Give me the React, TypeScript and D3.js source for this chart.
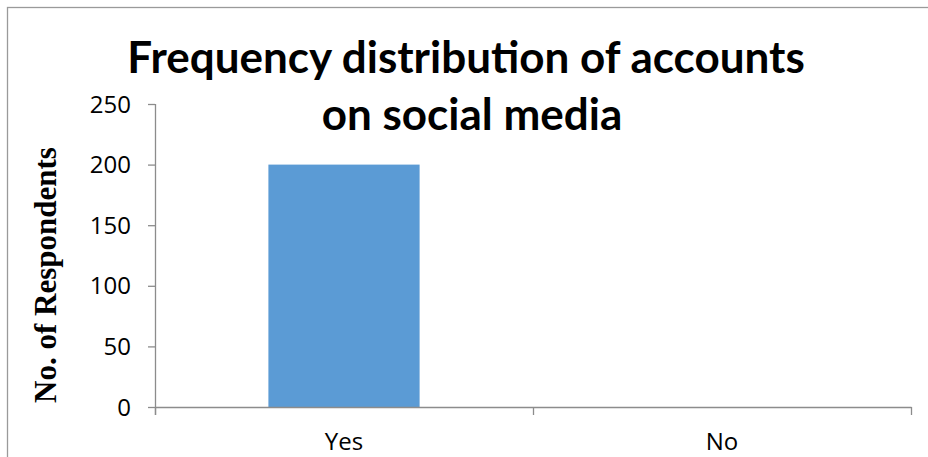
import React from "react";
import * as d3 from "d3";

const categories: string[] = ["Yes", "No"];
const respondents: number[] = [200, 0];
const yTicks: number[] = [0, 50, 100, 150, 200, 250];
const titleLines: string[] = ["Frequency distribution of accounts", "on social media"];
const yAxisTitle = "No. of Respondents";

const W = 928;
const H = 457;
const plot = { left: 155, right: 911, top: 104, bottom: 407 };

export default function App() {
  const x = d3
    .scaleBand<string>()
    .domain(categories)
    .range([plot.left, plot.right])
    .paddingInner(0)
    .paddingOuter(0);
  const y = d3.scaleLinear().domain([0, 250]).range([plot.bottom, plot.top]);
  const barW = x.bandwidth() * 0.4;
  const axisColor = "#8c8c8c";
  const tickFont = "Open Sans, Lato, sans-serif";

  const boundaries = [...categories.map((c) => x(c) as number), plot.right];

  return (
    <svg
      width={W}
      height={H}
      style={{ position: "fixed", left: 0, top: 0, background: "#fff" }}
    >
      <rect x={7.5} y={7.5} width={W + 10} height={H + 10} fill="#fff" stroke="#9a9a9a" strokeWidth={1.3} />

      {/* title */}
      <text
        x={466}
        y={73}
        textAnchor="middle"
        fontFamily="Lato, Open Sans, sans-serif"
        fontWeight="bold"
        fontSize={44}
        fill="#000"
      >
        {titleLines[0]}
      </text>
      <text
        x={472}
        y={130}
        textAnchor="middle"
        fontFamily="Lato, Open Sans, sans-serif"
        fontWeight="bold"
        fontSize={44}
        fill="#000"
      >
        {titleLines[1]}
      </text>

      {/* bars */}
      {categories.map((c, i) => {
        const cx = (x(c) as number) + x.bandwidth() / 2;
        return (
          <rect
            key={c}
            x={cx - barW / 2}
            y={y(respondents[i])}
            width={barW}
            height={y(0) - y(respondents[i])}
            fill="#5B9BD5"
          />
        );
      })}

      {/* y axis */}
      <line x1={plot.left + 0.5} x2={plot.left + 0.5} y1={y(250)} y2={plot.bottom + 8} stroke={axisColor} strokeWidth={1.3} />
      {yTicks.map((t) => (
        <g key={t}>
          <line x1={plot.left - 7} x2={plot.left} y1={y(t) + 0.5} y2={y(t) + 0.5} stroke={axisColor} strokeWidth={1.3} />
          <text
            x={131}
            y={y(t)}
            dy="0.36em"
            textAnchor="end"
            fontFamily={tickFont}
            fontSize={24}
            fill="#000"
          >
            {t}
          </text>
        </g>
      ))}

      {/* x axis */}
      <line x1={plot.left} x2={plot.right + 0.5} y1={plot.bottom + 0.5} y2={plot.bottom + 0.5} stroke={axisColor} strokeWidth={1.3} />
      {boundaries.map((b, i) => (
        <line key={i} x1={b + 0.5} x2={b + 0.5} y1={plot.bottom} y2={plot.bottom + 8} stroke={axisColor} strokeWidth={1.3} />
      ))}
      {categories.map((c) => (
        <text
          key={c}
          x={(x(c) as number) + x.bandwidth() / 2}
          y={450}
          textAnchor="middle"
          fontFamily={tickFont}
          fontSize={24}
          fill="#000"
        >
          {c}
        </text>
      ))}

      {/* y axis title */}
      <text
        transform={`translate(56, 275) rotate(-90)`}
        textAnchor="middle"
        fontFamily="Liberation Serif, Times New Roman, serif"
        fontWeight="bold"
        fontSize={31}
        fill="#000"
      >
        {yAxisTitle}
      </text>
    </svg>
  );
}
